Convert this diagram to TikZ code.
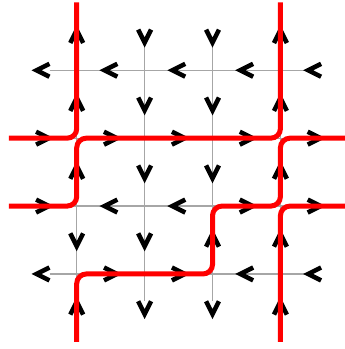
\documentclass[tikz,border=0pt]{standalone}
\usepackage{xcolor}
\usepackage{tikz}

\begin{document}
\begin{tikzpicture}[
    reticolo/.style={black!35, line width=0.5pt},
    cammino/.style={red, line width=2.1pt, rounded corners=4pt},
    freccia/.pic={\draw[black, line width=1.9pt] (-2.8pt,2.7pt) -- (2.6pt,0pt) -- (-2.8pt,-2.7pt);}]
    \useasboundingbox (-0.13,-0.105) rectangle (4.937,5.035);

    % Reticolo
    \foreach \i in {1,...,4} {
        \draw[reticolo] (0.6,\i) -- (4.4,\i);
        \draw[reticolo] (\i,0.6) -- (\i,4.4);
    }

    % Frecce orizzontali (1 = destra, -1 = sinistra)
    \foreach \d [count=\k] in {-1,1,1,-1,-1} \pic[rotate=90-90*\d] at (\k-0.5,1) {freccia};
    \foreach \d [count=\k] in {1,-1,-1,1,1} \pic[rotate=90-90*\d] at (\k-0.5,2) {freccia};
    \foreach \d [count=\k] in {1,1,1,1,1} \pic[rotate=90-90*\d] at (\k-0.5,3) {freccia};
    \foreach \d [count=\k] in {-1,-1,-1,-1,-1} \pic[rotate=90-90*\d] at (\k-0.5,4) {freccia};

    % Frecce verticali (1 = su, -1 = giu)
    \foreach \d [count=\k] in {1,-1,1,1,1} \pic[rotate=180-90*\d] at (1,\k-0.5) {freccia};
    \foreach \d [count=\k] in {-1,-1,-1,-1,-1} \pic[rotate=180-90*\d] at (2,\k-0.5) {freccia};
    \foreach \d [count=\k] in {-1,1,-1,-1,-1} \pic[rotate=180-90*\d] at (3,\k-0.5) {freccia};
    \foreach \d [count=\k] in {1,1,1,1,1} \pic[rotate=180-90*\d] at (4,\k-0.5) {freccia};

    % Cammini
    \draw[cammino] (0,3) -- (1,3) -- (1,5);
    \draw[cammino] (0,2) -- (1,2) -- (1,3) -- (4,3) -- (4,5);
    \draw[cammino] (1,0) -- (1,1) -- (3,1) -- (3,2) -- (4,2) -- (4,3) -- (5,3);
    \draw[cammino] (4,0) -- (4,2) -- (5,2);
\end{tikzpicture}
\end{document}
